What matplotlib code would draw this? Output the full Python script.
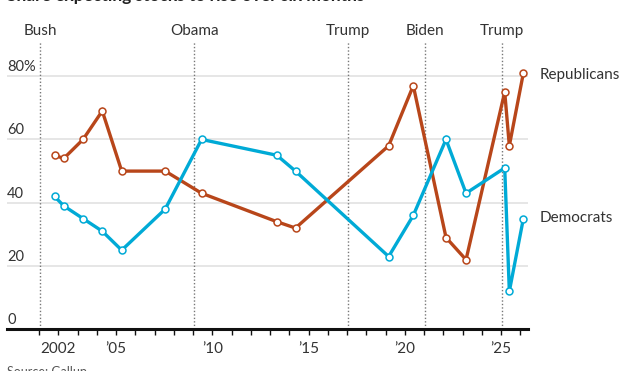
import matplotlib
matplotlib.use("Agg")
import matplotlib.pyplot as plt
from matplotlib.transforms import blended_transform_factory

plt.rcParams['font.family'] = ['Lato', 'DejaVu Sans']

# survey dates (decimal years) and share expecting stocks to rise, %
dates = [2001.8, 2002.28, 2003.28, 2004.28, 2005.29, 2007.55, 2009.44, 2013.35,
         2014.32, 2019.16, 2020.44, 2022.14, 2023.18, 2025.19, 2025.43, 2026.16]
republicans = [55, 54, 60, 69, 50, 50, 43, 34, 32, 58, 77, 29, 22, 75, 58, 81]
democrats = [42, 39, 35, 31, 25, 38, 60, 55, 50, 23, 36, 60, 43, 51, 12, 35]

presidents = ['Bush', 'Obama', 'Trump', 'Biden', 'Trump']
inaugurations = [2001.05, 2009.05, 2017.05, 2021.05, 2025.05]

y_ticks = [0, 20, 40, 60, 80]
y_labels = ['0', '20', '40', '60', '80%']
x_ticks = [2002, 2005, 2010, 2015, 2020, 2025]
x_labels = ['2002', '\u201905', '\u201910', '\u201915', '\u201920', '\u201925']

rep_color = '#b8461a'
dem_color = '#00aad6'
text_color = '#333333'

fig = plt.figure(figsize=(6.27, 3.71), dpi=100)
ax = fig.add_axes([7 / 627, 1 - 329.3 / 371, 521 / 627, 287.3 / 371])
ax.set_xlim(1999.33, 2026.4)
ax.set_ylim(0, 90.8)

for s in ['top', 'right', 'left']:
    ax.spines[s].set_visible(False)
ax.spines['bottom'].set_linewidth(2.2)
ax.spines['bottom'].set_color('#111111')
ax.spines['bottom'].set_zorder(5)

# gridlines
for v in y_ticks[1:]:
    ax.axhline(v, color='#e2e2e2', lw=1.2, zorder=0)

# y labels sit above the gridlines
trans = blended_transform_factory(ax.transAxes, ax.transData)
for v, lab in zip(y_ticks, y_labels):
    ax.text(0.0, v + 0.7, lab, transform=trans, ha='left', va='bottom',
            fontsize=10.5, color=text_color)
ax.set_yticks([])

# x ticks: one minor tick per year, labels on a few
ax.set_xticks(list(range(2001, 2027)), minor=True)
ax.set_xticks(x_ticks)
ax.set_xticklabels(x_labels, fontsize=11, color=text_color)
ax.tick_params(axis='x', which='both', length=4, width=1, color='#111111',
               pad=5)

# president markers
for name, yr in zip(presidents, inaugurations):
    ax.axvline(yr, color='#777777', lw=1, ls=(0, (1, 1.5)), zorder=1)
    ax.text(yr, 92.0, name, ha='center', va='bottom', fontsize=11,
            color=text_color, clip_on=False)

marker_style = dict(marker='o', markersize=5, markerfacecolor='white',
                    markeredgewidth=1.1, lw=2.4, solid_joinstyle='miter',
                    clip_on=False, zorder=3)
ax.plot(dates, republicans, color=rep_color, markeredgecolor=rep_color,
        **marker_style)
ax.plot(dates, democrats, color=dem_color, markeredgecolor=dem_color,
        **marker_style)

ax.text(540 / 627, 1 - 75 / 371, 'Republicans', transform=fig.transFigure,
        ha='left', va='center', fontsize=11, color=text_color)
ax.text(540 / 627, 1 - 218 / 371, 'Democrats', transform=fig.transFigure,
        ha='left', va='center', fontsize=11, color=text_color)

fig.text(7 / 627, 1 - 1.5 / 371, 'Share expecting stocks to rise over six months',
         ha='left', va='baseline', fontsize=12.5, fontweight='bold',
         color='#222222')
fig.text(7 / 627, 1 - 366 / 371, 'Source: Gallup', ha='left', va='top',
         fontsize=9, color='#555555')

fig.savefig('out.png', dpi=100)
